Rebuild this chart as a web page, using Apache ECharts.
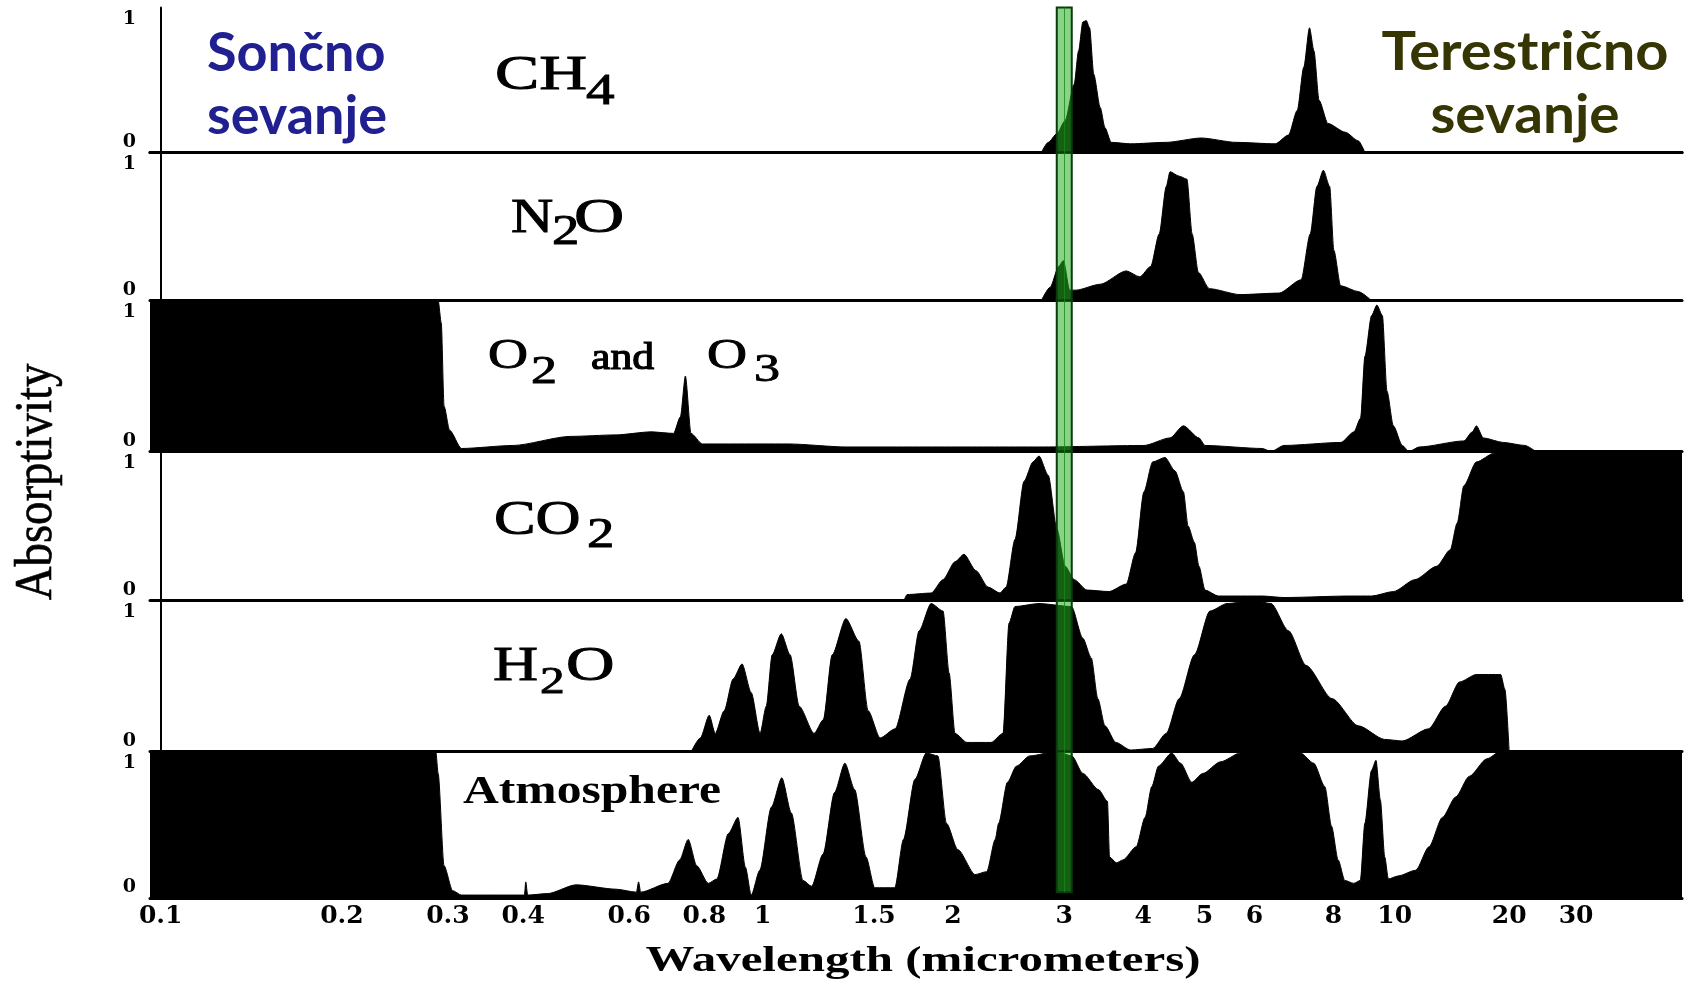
<!DOCTYPE html>
<html><head><meta charset="utf-8">
<script src="https://cdn.jsdelivr.net/npm/echarts@6/dist/echarts.min.js"></script>
<style>html,body{margin:0;padding:0;background:#fff}#c{width:1686px;height:985px}</style>
</head><body><div id="c"></div>
<script>
// ---------------- data (wavelength in micrometers, absorptivity 0..1) ----------------
const tickLabels = ['0.1','0.2','0.3','0.4','0.6','0.8','1','1.5','2','3','4','5','6','8','10','20','30'];
const panelNames = ['CH4','N2O','O2 and O3','CO2','H2O','Atmosphere'];
const WL_MIN = 0.096, WL_MAX = 57;
const bandWl = [2.919, 3.083];

const ch4Wl  = [2.76,2.83,2.92,3.01,3.11,3.16,3.21,3.25,3.29,3.34,3.42,3.48,3.56,3.82,4.35,4.94,5.61,6.47,6.79,7.01,7.18,7.33,7.45,7.59,7.84,8.35,8.76,8.97];
const ch4Abs = [0,0.07,0.13,0.22,0.47,0.70,0.90,0.91,0.86,0.54,0.31,0.17,0.07,0.06,0.07,0.10,0.07,0.06,0.12,0.29,0.59,0.86,0.70,0.36,0.20,0.14,0.08,0];

const n2oWl  = [2.76,2.85,2.94,2.99,3.06,3.13,3.42,3.76,3.95,4.11,4.24,4.35,4.41,4.56,4.69,4.78,4.89,5.09,5.69,6.56,7.11,7.35,7.53,7.71,7.89,8.01,8.21,8.76,9.18];
const n2oAbs = [0,0.09,0.23,0.27,0.07,0.07,0.11,0.20,0.16,0.23,0.45,0.77,0.87,0.84,0.82,0.45,0.19,0.08,0.04,0.05,0.14,0.45,0.77,0.88,0.77,0.34,0.10,0.06,0];

const o3Wl  = [0.096,0.289,0.2925,0.2956,0.302,0.316,0.385,0.479,0.571,0.652,0.711,0.730,0.744,0.760,0.794,0.887,1.099,1.355,1.67,2.37,2.78,4.01,4.41,4.63,4.90,5.01,6.17,6.37,6.68,8.22,8.62,8.83,8.97,9.19,9.37,9.56,9.72,9.95,10.47,10.9,11.6,15.2,16.0,16.4,17.1,19.3,22.0,23.5];
const o3Abs = [1,1,0.85,0.30,0.14,0.02,0.04,0.10,0.11,0.13,0.12,0.23,0.50,0.12,0.05,0.05,0.05,0.03,0.03,0.03,0.03,0.04,0.09,0.17,0.09,0.04,0.02,0,0.04,0.06,0.13,0.22,0.63,0.90,0.97,0.90,0.40,0.17,0.04,0,0.03,0.07,0.13,0.17,0.09,0.06,0.04,0];

const co2Wl  = [1.674,1.692,1.847,1.929,2.015,2.082,2.175,2.273,2.374,2.427,2.507,2.591,2.677,2.736,2.83,2.92,3.01,3.11,3.26,3.53,3.76,3.89,4.01,4.14,4.33,4.49,4.63,4.71,4.82,4.90,5.01,5.26,6.17,6.68,8.49,9.19,9.95,11.3,12.9,14.0,14.6,15.2,16.4,18.3,19.8,57];
const co2Abs = [0,0.04,0.05,0.14,0.26,0.31,0.20,0.09,0.05,0.09,0.41,0.80,0.93,0.97,0.84,0.48,0.23,0.14,0.07,0.06,0.11,0.32,0.73,0.93,0.96,0.87,0.73,0.50,0.39,0.23,0.07,0.03,0.03,0.02,0.03,0.03,0.06,0.14,0.23,0.34,0.52,0.77,0.93,0.99,1,1];

const h2oWl  = [0.761,0.788,0.815,0.834,0.863,0.893,0.924,0.957,0.990,1.013,1.035,1.070,1.105,1.142,1.206,1.247,1.288,1.354,1.420,1.468,1.534,1.620,1.711,1.768,1.847,1.929,1.972,2.015,2.105,2.297,2.400,2.453,2.507,2.736,3.08,3.21,3.31,3.39,3.48,3.62,3.82,4.14,4.35,4.56,4.82,5.10,5.43,5.98,6.37,6.79,7.24,7.96,8.76,9.64,10.47,12.27,13.6,14.8,16.4,19.0,19.5,20.0];
const h2oAbs = [0,0.09,0.24,0.12,0.27,0.48,0.58,0.39,0.12,0.30,0.64,0.78,0.64,0.30,0.12,0.21,0.64,0.88,0.73,0.27,0.09,0.15,0.48,0.80,0.98,0.93,0.52,0.12,0.06,0.06,0.12,0.85,0.96,0.98,0.96,0.75,0.62,0.35,0.17,0.06,0.01,0.02,0.12,0.35,0.64,0.93,0.98,1,0.98,0.80,0.57,0.35,0.17,0.08,0.07,0.15,0.30,0.46,0.51,0.51,0.41,0];

const atmWl  = [0.096,0.2864,0.289,0.2956,0.3055,0.316,0.402,0.404,0.407,0.439,0.490,0.571,0.617,0.622,0.627,0.696,0.728,0.752,0.777,0.812,0.839,0.877,0.910,0.936,0.957,0.989,1.032,1.072,1.110,1.158,1.195,1.246,1.299,1.349,1.398,1.457,1.504,1.618,1.670,1.741,1.815,1.893,1.953,2.036,2.168,2.262,2.333,2.362,2.439,2.520,2.645,2.915,3.084,3.211,3.398,3.511,3.538,3.627,3.716,3.899,4.027,4.126,4.228,4.437,4.583,4.773,4.969,5.302,5.702,7.093,7.445,7.752,7.943,8.136,8.337,8.612,8.822,8.968,9.186,9.339,9.489,9.642,9.770,10.2,11.36,12.31,13.35,14.47,15.70,17.48,18.94,57];
const atmAbs = [1,1,0.85,0.22,0.05,0.02,0.02,0.11,0.02,0.03,0.09,0.06,0.04,0.11,0.04,0.10,0.26,0.40,0.22,0.10,0.13,0.44,0.55,0.21,0.02,0.19,0.62,0.82,0.58,0.12,0.08,0.30,0.72,0.92,0.74,0.28,0.07,0.07,0.40,0.81,0.99,0.97,0.51,0.33,0.16,0.18,0.40,0.51,0.79,0.90,0.97,1,0.97,0.85,0.74,0.66,0.28,0.24,0.26,0.35,0.55,0.76,0.90,0.99,0.92,0.79,0.85,0.93,0.99,0.99,0.92,0.76,0.49,0.26,0.12,0.10,0.12,0.51,0.87,0.94,0.67,0.28,0.13,0.15,0.19,0.35,0.55,0.69,0.83,0.95,1,1];

const panelWl  = [ch4Wl, n2oWl, o3Wl, co2Wl, h2oWl, atmWl];
const panelAbs = [ch4Abs, n2oAbs, o3Abs, co2Abs, h2oAbs, atmAbs];

// ---------------- scale: the original figure uses a log axis whose decades have different widths ----------------
const DEC = [602, 632, 380];
function u(l) {
  const g = Math.log10(l);
  if (g <= 0) return DEC[0] * (g + 1);
  if (g <= 1) return DEC[0] + DEC[1] * g;
  return DEC[0] + DEC[1] + DEC[2] * (g - 1);
}
const XMIN = u(WL_MIN), XMAX = u(WL_MAX);
const tickU = tickLabels.map(t => u(Number(t)));
function tickFmt(v) {
  for (let i = 0; i < tickU.length; i++) if (Math.abs(tickU[i] - v) < 0.01) return tickLabels[i];
  return '';
}

// ---------------- layout ----------------
const tops = [7.5, 152.5, 300.5, 451.5, 600.5, 751.5];
const heights = [145, 148, 151, 149, 151, 146.5];

const grids = [], xAxes = [], yAxes = [], series = [];
for (let i = 0; i < 6; i++) {
  grids.push({ left: 150, right: 4, top: tops[i], height: heights[i], containLabel: false });
  xAxes.push({
    gridIndex: i, type: 'value', min: XMIN, max: XMAX,
    axisLine: { show: true, onZero: false, lineStyle: { color: '#000', width: 3 } },
    axisTick: { show: false }, splitLine: { show: false },
    axisLabel: i === 5 ? {
      show: true, customValues: tickU, formatter: tickFmt,
      fontFamily: 'DejaVu Serif', fontWeight: 'bold', fontSize: 25, color: '#000', margin: 6
    } : { show: false }
  });
  yAxes.push({
    gridIndex: i, type: 'value', min: 0, max: 1, interval: 1,
    axisLine: { show: true, lineStyle: { color: '#000', width: 2 } },
    axisTick: { show: false }, splitLine: { show: false },
    axisLabel: {
      fontFamily: 'DejaVu Serif', fontWeight: 'bold', fontSize: 19, color: '#000', margin: 14,
      verticalAlignMinLabel: 'bottom', verticalAlignMaxLabel: 'top', padding: [2, 0, 1, 0]
    }
  });
  series.push({
    name: panelNames[i], type: 'line', xAxisIndex: i, yAxisIndex: i,
    data: panelWl[i].map((w, k) => [u(w), panelAbs[i][k]]),
    symbol: 'none', smooth: 0.25, smoothMonotone: 'x',
    lineStyle: { color: '#000', width: 1 },
    areaStyle: { color: '#000', opacity: 1, origin: 'start' },
    silent: true, z: 2
  });
  series.push({
    type: 'line', xAxisIndex: i, yAxisIndex: i, data: [[u(3), 0]], symbol: 'none',
    lineStyle: { width: 0, opacity: 0 }, silent: true, z: 5,
    markArea: {
      silent: true, z: 10,
      itemStyle: { color: 'rgba(40,175,40,0.55)', borderColor: '#0b3b0b', borderWidth: 2 },
      data: [[{ coord: [u(bandWl[0]), i === 5 ? 0.04 : 0] }, { coord: [u(bandWl[1]), 1] }]]
    },
    markLine: {
      silent: true, z: 11, symbol: 'none', label: { show: false },
      lineStyle: { color: 'rgba(20,140,20,0.8)', width: 1, type: 'solid' },
      data: [[{ coord: [u(3.0), i === 5 ? 0.04 : 0] }, { coord: [u(3.0), 1] }]]
    }
  });
}
// top frame line
xAxes.push({
  gridIndex: 0, type: 'value', position: 'top', min: XMIN, max: XMAX,
  axisLine: { show: true, lineStyle: { color: '#000', width: 3 } },
  axisTick: { show: false }, axisLabel: { show: false }, splitLine: { show: false }
});

const serif = '"Liberation Serif", "Times New Roman", serif';
function txt(text, x, y, size, opts) {
  opts = opts || {};
  const st = {
    text: text, fill: opts.color || '#000',
    font: (opts.bold ? 'bold ' : '') + size + 'px ' + (opts.family || serif),
    align: opts.align || 'left', verticalAlign: 'middle'
  };
  if (opts.stroke) { st.stroke = opts.color || '#000'; st.lineWidth = opts.stroke; }
  return { type: 'text', x: x, y: y, scaleX: opts.sx || 1, rotation: opts.rot || 0, z: 20, style: st };
}
const K = 0.9; // stroke thickening for the scanned-looking labels
const graphics = [
  txt('CH', 495, 76, 48, { sx: 1.38, stroke: K }), txt('4', 586, 92, 44, { sx: 1.3, stroke: K }),
  txt('N', 511, 219, 48, { sx: 1.22, stroke: K }), txt('2', 552, 233, 42, { sx: 1.3, stroke: K }), txt('O', 574, 219, 48, { sx: 1.45, stroke: K }),
  txt('O', 488, 357, 42, { sx: 1.32, stroke: K }), txt('2', 531, 372, 40, { sx: 1.3, stroke: K }),
  txt('and', 591, 359, 38, { sx: 1.15, stroke: 1.2 }),
  txt('O', 707, 357, 42, { sx: 1.32, stroke: K }), txt('3', 754, 370, 40, { sx: 1.3, stroke: K }),
  txt('CO', 494, 521, 48, { sx: 1.3, stroke: K }), txt('2', 587, 536, 42, { sx: 1.3, stroke: K }),
  txt('H', 493, 667, 48, { sx: 1.3, stroke: K }), txt('2', 540, 683, 38, { sx: 1.3, stroke: K }), txt('O', 566, 667, 48, { sx: 1.4, stroke: K }),
  txt('Atmosphere', 463, 793, 40, { sx: 1.24, bold: true }),
  txt('Absorptivity', 37, 482, 52, { sx: 0.9, rot: Math.PI / 2, align: 'center', stroke: 0.6 }),
  txt('Wavelength (micrometers)', 923, 962, 36, { sx: 1.36, bold: true, align: 'center' }),
  txt('Sončno', 207, 54, 54, { bold: true, family: 'Lato, "Open Sans", sans-serif', color: '#202090' }),
  txt('sevanje', 207, 117, 54, { bold: true, family: 'Lato, "Open Sans", sans-serif', color: '#202090' }),
  txt('Terestrično', 1525, 53, 54, { sx: 1.07, bold: true, align: 'center', family: 'Lato, "Open Sans", sans-serif', color: '#363605' }),
  txt('sevanje', 1525, 116, 54, { sx: 1.05, bold: true, align: 'center', family: 'Lato, "Open Sans", sans-serif', color: '#363605' })
];

const chart = echarts.init(document.getElementById('c'), null, { renderer: 'canvas' });
chart.setOption({
  backgroundColor: '#fff',
  animation: false,
  grid: grids, xAxis: xAxes, yAxis: yAxes, series: series,
  graphic: graphics
});
</script></body></html>
